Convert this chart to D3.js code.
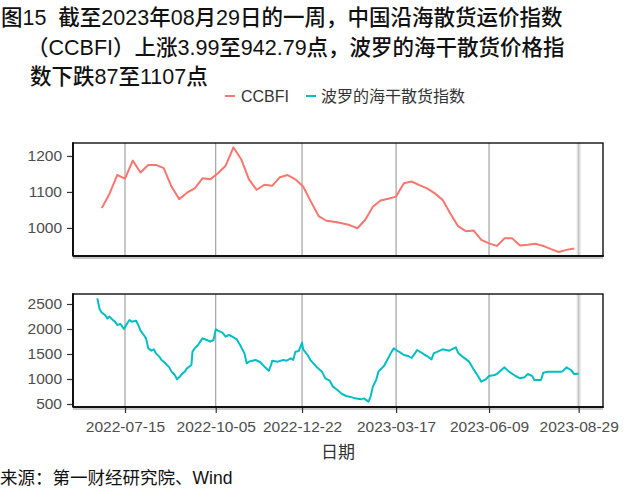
<!DOCTYPE html>
<html><head><meta charset="utf-8">
<script src="https://cdn.jsdelivr.net/npm/d3@7"></script>
<style>body{margin:0;background:#fff} svg{display:block}</style>
</head><body><svg id="c" width="640" height="498"></svg>
<script>
const titleLines = [
  "图15  截至2023年08月29日的一周，中国沿海散货运价指数",
  "（CCBFI）上涨3.99至942.79点，波罗的海干散货价格指",
  "数下跌87至1107点"
];
const legendLabels = ["CCBFI", "波罗的海干散货指数"];
const seriesColors = ["#F8766D", "#00BFC4"];
const xAxisTitle = "日期";
const sourceText = "来源：第一财经研究院、Wind";
const xTickLabels = ["2022-07-15","2022-10-05","2022-12-22","2023-03-17","2023-06-09","2023-08-29"];
const yTicksTop = [1000, 1100, 1200];
const yTicksBottom = [500, 1000, 1500, 2000, 2500];
const xDomain = ["2022-05-29", "2023-09-20"];
const yDomainTop = [922, 1236];
const yDomainBottom = [440, 2700];

// CCBFI weekly (Fridays) starting 2022-06-24
const ccbfiStart = "2022-06-24";
const ccbfiValues = [1055,1095,1147,1137,1187,1154,1175,1175,1166,1115,
  1080,1098,1110,1138,1135,1152,1173,1224,1191,1135,
  1106,1120,1117,1141,1147,1135,1115,1073,1033,1020,
  1017,1013,1008,999,1022,1059,1076,1081,1087,1124,
  1129,1119,1110,1096,1078,1040,1005,991,993,967,
  957,950,971,971,951,953,956,950,941,933,939,942.79];

// BDI
const bdiDates = ["2022-06-20","2022-06-22","2022-06-24","2022-06-27","2022-06-29","2022-07-01","2022-07-04","2022-07-06","2022-07-08","2022-07-11",
"2022-07-13","2022-07-14","2022-07-18","2022-07-19","2022-07-21","2022-07-25","2022-07-27","2022-07-29","2022-08-01","2022-08-03",
"2022-08-05","2022-08-08","2022-08-10","2022-08-12","2022-08-15","2022-08-17","2022-08-19","2022-08-22","2022-08-24","2022-08-26",
"2022-08-29","2022-08-31","2022-09-02","2022-09-05","2022-09-07","2022-09-09","2022-09-13","2022-09-14","2022-09-16","2022-09-19",
"2022-09-21","2022-09-23","2022-09-27","2022-09-30","2022-10-03","2022-10-05","2022-10-07","2022-10-11","2022-10-14","2022-10-17",
"2022-10-20","2022-10-24","2022-10-27","2022-10-31","2022-11-02","2022-11-04","2022-11-07","2022-11-10","2022-11-14","2022-11-18",
"2022-11-22","2022-11-24","2022-11-25","2022-11-30","2022-12-05","2022-12-08","2022-12-12","2022-12-14","2022-12-16","2022-12-19",
"2022-12-20","2022-12-22","2022-12-23","2022-12-27","2022-12-30","2023-01-04","2023-01-09","2023-01-12","2023-01-16","2023-01-19",
"2023-01-23","2023-01-27","2023-01-31","2023-02-03","2023-02-08","2023-02-13","2023-02-16","2023-02-20","2023-02-22","2023-02-24",
"2023-02-27","2023-03-01","2023-03-06","2023-03-09","2023-03-13","2023-03-15","2023-03-17","2023-03-21","2023-03-24","2023-03-28",
"2023-03-31","2023-04-03","2023-04-05","2023-04-10","2023-04-12","2023-04-14","2023-04-18","2023-04-20","2023-04-28","2023-05-04",
"2023-05-10","2023-05-12","2023-05-16","2023-05-22","2023-05-26","2023-05-30","2023-06-02","2023-06-06","2023-06-09","2023-06-14",
"2023-06-16","2023-06-23","2023-06-27","2023-07-03","2023-07-07","2023-07-11","2023-07-14","2023-07-18","2023-07-20","2023-07-26",
"2023-07-28","2023-08-01","2023-08-07","2023-08-14","2023-08-18","2023-08-22","2023-08-25","2023-08-29"];
const bdiValues = [2613,2400,2327,2280,2213,2247,2180,2147,2080,2100,
2033,2000,2150,2180,2147,2167,2080,1967,1880,1813,
1613,1567,1593,1513,1447,1380,1347,1280,1233,1147,
1080,993,1033,1113,1147,1213,1280,1547,1613,1680,
1747,1813,1780,1747,1780,1993,1967,1927,1847,1880,
1847,1793,1680,1513,1313,1347,1367,1380,1340,1247,
1167,1280,1367,1347,1380,1367,1413,1380,1547,1560,
1613,1727,1593,1480,1367,1247,1147,1013,967,847,
780,700,660,647,613,593,613,547,647,847,
980,1147,1260,1380,1547,1613,1580,1527,1480,1460,
1420,1513,1580,1513,1480,1460,1393,1513,1593,1567,
1633,1527,1447,1347,1193,1060,947,993,1060,1080,
1100,1233,1147,1060,1013,1033,1100,1060,980,980,
1127,1147,1147,1147,1233,1180,1100,1107];

const parse = d3.utcParse("%Y-%m-%d");
const svg = d3.select("#c");
const FONT = "'Liberation Sans','Noto Sans CJK SC',sans-serif";

// layout
const L = 73, R = 603;
const panels = [
  {top: 143, bottom: 256, domain: yDomainTop, ticks: yTicksTop, showX: false},
  {top: 294, bottom: 407, domain: yDomainBottom, ticks: yTicksBottom, showX: true}
];

const x = d3.scaleUtc().domain(xDomain.map(parse)).range([L, R]);
const tickDates = xTickLabels.map(parse);

const ccbfi = ccbfiValues.map((v, i) => ({date: d3.utcDay.offset(parse(ccbfiStart), 7 * i), value: v}));
const bdi = bdiValues.map((v, i) => ({date: parse(bdiDates[i]), value: v}));
const seriesData = [ccbfi, bdi];

// title
svg.append("g").selectAll("text").data(titleLines).join("text")
  .attr("x", (d, i) => i === 0 ? 1 : (i === 1 ? 27 : 30))
  .attr("y", (d, i) => 25 + i * 29.5)
  .attr("font-family", FONT).attr("font-size", 21.5).attr("font-weight", 500).attr("fill", "#111")
  .style("white-space", "pre")
  .text(d => d);

// legend
const lg = svg.append("g").attr("font-family", FONT).attr("font-size", 16).attr("fill", "#333");
const legendPos = [{dx: 225, tx: 241}, {dx: 306, tx: 321}];
legendLabels.forEach((lab, i) => {
  lg.append("line").attr("x1", legendPos[i].dx).attr("x2", legendPos[i].dx + 10)
    .attr("y1", 96).attr("y2", 96).attr("stroke", seriesColors[i]).attr("stroke-width", 2);
  lg.append("text").attr("x", legendPos[i].tx).attr("y", 101.5).text(lab);
});

panels.forEach((p, pi) => {
  const y = d3.scaleLinear().domain(p.domain).range([p.bottom, p.top]);
  const g = svg.append("g");
  g.append("rect").attr("x", L).attr("y", p.top).attr("width", R - L).attr("height", p.bottom - p.top).attr("fill", "#fff");
  // gridlines
  tickDates.forEach((d, i) => {
    const last = i === tickDates.length - 1;
    if (last) {
      g.append("line").attr("x1", x(d)).attr("x2", x(d)).attr("y1", p.top).attr("y2", p.bottom)
        .attr("stroke", "#e0e0e0").attr("stroke-width", 4);
    }
    g.append("line").attr("x1", x(d)).attr("x2", x(d)).attr("y1", p.top).attr("y2", p.bottom)
      .attr("stroke", last ? "#bdbdbd" : "#8f8f8f").attr("stroke-width", 1);
  });
  // line
  const line = d3.line().x(d => x(d.date)).y(d => y(d.value));
  g.append("path").datum(seriesData[pi]).attr("d", line)
    .attr("fill", "none").attr("stroke", seriesColors[pi]).attr("stroke-width", 2)
    .attr("stroke-linejoin", "round");
  // border
  g.append("rect").attr("x", L).attr("y", p.top).attr("width", R - L).attr("height", p.bottom - p.top)
    .attr("fill", "none").attr("stroke", "#111").attr("stroke-width", 1.4);
  g.append("line").attr("x1", L).attr("x2", R).attr("y1", p.bottom + 2).attr("y2", p.bottom + 2)
    .attr("stroke", "#c8c8c8").attr("stroke-width", 2);
  g.append("line").attr("x1", L).attr("x2", R + 0.7).attr("y1", p.bottom).attr("y2", p.bottom)
    .attr("stroke", "#111").attr("stroke-width", 2);
  g.append("line").attr("x1", L).attr("x2", L).attr("y1", p.top - 0.7).attr("y2", p.bottom)
    .attr("stroke", "#111").attr("stroke-width", 2);
  // y axis
  const ya = g.append("g").attr("transform", `translate(${L - 1},0)`)
    .call(d3.axisLeft(y).tickValues(p.ticks).tickSize(5).tickPadding(5).tickFormat(d3.format("d")));
  ya.select(".domain").remove();
  ya.selectAll(".tick line").attr("stroke", "#333").attr("stroke-width", 1.2);
  ya.selectAll("text").attr("font-family", FONT).attr("font-size", 15.5).attr("fill", "#4d4d4d");
  if (p.showX) {
    const xa = g.append("g").attr("transform", `translate(0,${p.bottom + 1})`)
      .call(d3.axisBottom(x).tickValues(tickDates).tickSize(5).tickPadding(8).tickFormat((d, i) => xTickLabels[i]));
    xa.select(".domain").remove();
    xa.selectAll(".tick line").attr("stroke", "#333").attr("stroke-width", 1.2);
    xa.selectAll("text").attr("font-family", FONT).attr("font-size", 15.5).attr("fill", "#4d4d4d");
  }
});

// axis title
svg.append("text").attr("x", 338).attr("y", 458).attr("text-anchor", "middle")
  .attr("font-family", FONT).attr("font-size", 17).attr("fill", "#333").text(xAxisTitle);

// source
svg.append("text").attr("x", 0).attr("y", 484)
  .attr("font-family", FONT).attr("font-size", 17.5).attr("fill", "#111").text(sourceText);
</script>
</body></html>
